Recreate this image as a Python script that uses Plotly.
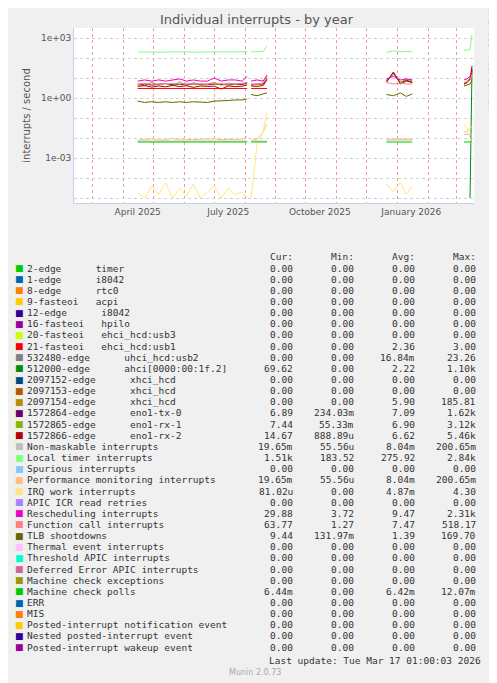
import plotly.graph_objects as go

# sample dates (None values = gaps in the data)
dates = ["2025-04-15", "2025-04-22", "2025-04-29", "2025-05-06", "2025-05-13", "2025-05-20",
         "2025-05-27", "2025-06-03", "2025-06-10", "2025-06-17", "2025-06-24", "2025-07-01",
         "2025-07-08", "2025-07-15", "2025-07-22", "2025-07-29", "2025-08-03",
         "2025-08-04",
         "2025-08-07", "2025-08-13", "2025-08-19", "2025-08-23",
         "2025-08-24",
         "2025-12-21", "2025-12-28", "2026-01-04", "2026-01-10", "2026-01-16",
         "2026-01-17",
         "2026-03-09", "2026-03-12", "2026-03-15", "2026-03-17"]
N = None

loc_timer = [200, 195, 190, 200, 195, 205, 200, 210, 190, 195, 200, 200, 195, 200, 190, 205, 210, N,
             205, 200, 210, 400, N, 190, 230, 200, 215, 205, N, 240, 240, 260, 1500]
resched = [7, 8, 7, 8, 7, 8, 9, 7, 8, 7, 7, 10, 7, 8, 8, 7, 12, N,
           7, 8, 7, 14, N, 9, 12, 8, 9, 8, N, 8, 9, 12, 20]
func_call = [5, 5.5, 5, 5.2, 5, 5.4, 5, 5.6, 5, 5.3, 5, 5.5, 5.2, 5, 5.4, 5.2, 6, N,
             5, 5.3, 5.5, 10, N, 6, 5, 5.5, 5, 5, N, 6, 6.5, 8, 15]
eno_tx = [4.5, 5, 4.4, 4.8, 5.2, 4.6, 4.9, 4.5, 5.1, 4.7, 4.6, 5, 4.8, 4.5, 4.9, 4.7, 5.5, N,
          4.5, 4.8, 5, 9, N, 7, 18, 6, 8, 6, N, 5, 6, 9, 25]
eno_rx1 = [5, 4, 6, 4.5, 5.5, 4, 6.5, 4.2, 5.8, 4.5, 5, 6, 4.3, 5.5, 4.8, 5.2, 6, N,
           5, 4.6, 5.5, 12, N, 8, 15, 6, 9, 7, N, 5, 7, 10, 20]
eno_rx2 = [3.8, 4.2, 3.5, 4, 3.6, 4.3, 3.7, 4.1, 3.4, 4, 3.8, 3.9, 2.8, 4, 3.7, 3.9, 4.5, N,
           4, 3.8, 4.2, 8, N, 6, 20, 5, 7, 6, N, 5, 6, 8, 40]
fasteoi21 = [3, 3, 3, 3, 3, 3, 3, 3, 3, 3, 3, 3, 3, 3, 3, 3, 3, N,
             3, 3, 3, 3, N, N, N, N, N, N, N, N, N, N, N]
tlb = [0.7, 0.6, 0.65, 0.6, 0.65, 0.6, 0.65, 0.6, 0.65, 0.65, 0.6, 0.7, 0.7, 0.75, 0.8, 0.8, 0.9, N,
       1.5, 1.3, 1.6, 1.8, N, 1.5, 1.3, 1.8, 1.2, 1.6, N, 4, 4.5, 5, 8]
mcp = [0.0063] * 17 + [N] + [0.0063] * 4 + [N] + [0.0063] * 5 + [N] + [0.0063] * 4
pmi = [0.008, 0.0085, 0.009, 0.0082, 0.008, 0.0095, 0.0081, 0.0083, 0.0085, 0.008, 0.0082, 0.009,
       0.0084, 0.0085, 0.0082, 0.0086, 0.012, N,
       0.008, 0.0085, 0.02, 0.05, N, 0.0085, 0.009, 0.009, 0.0088, 0.009, N, 0.02, 0.02, 0.03, 0.04]
nmi = [0.007] * 17 + [N] + [0.007] * 4 + [N] + [0.008] * 5 + [N] + [0.015] * 4
irq_work = [2e-5, 1e-5, 4e-5, 1.5e-5, 6e-5, 1e-5, 3e-5, 1.2e-5, 5e-5, 1e-5, 2e-5, 4e-5,
            1e-5, 3e-5, 1.5e-5, 2e-5, 1e-5, N,
            1e-5, 0.005, 0.02, 0.2, N, 5e-5, 2e-5, 6e-5, 1.5e-5, 4e-5, N, 0.05, 0.03, 0.01, 0.005]
ahci = [N] * 29 + [N, N, 1e-5, 30]

# legend table
names = ["2-edge      timer", "1-edge      i8042", "8-edge      rtc0", "9-fasteoi   acpi",
         "12-edge      i8042", "16-fasteoi   hpilo", "20-fasteoi   ehci_hcd:usb3",
         "21-fasteoi   ehci_hcd:usb1", "532480-edge      uhci_hcd:usb2",
         "512000-edge      ahci[0000:00:1f.2]", "2097152-edge      xhci_hcd",
         "2097153-edge      xhci_hcd", "2097154-edge      xhci_hcd",
         "1572864-edge      eno1-tx-0", "1572865-edge      eno1-rx-1",
         "1572866-edge      eno1-rx-2", "Non-maskable interrupts", "Local timer interrupts",
         "Spurious interrupts", "Performance monitoring interrupts", "IRQ work interrupts",
         "APIC ICR read retries", "Rescheduling interrupts", "Function call interrupts",
         "TLB shootdowns", "Thermal event interrupts", "Threshold APIC interrupts",
         "Deferred Error APIC interrupts", "Machine check exceptions", "Machine check polls",
         "ERR", "MIS", "Posted-interrupt notification event", "Nested posted-interrupt event",
         "Posted-interrupt wakeup event"]
colors = ["#00CC00", "#0066B3", "#FF8000", "#FFCC00", "#330099", "#990099", "#CCFF00", "#FF0000",
          "#808080", "#008F00", "#00487D", "#B35A00", "#B38F00", "#6B006B", "#8FB300", "#B30000",
          "#BEBEBE", "#80FF80", "#80C9FF", "#FFC080", "#FFE680", "#AA80FF", "#EE00CC", "#FF8080",
          "#666600", "#FFBFFF", "#00FFCC", "#CC6699", "#999900", "#00CC00", "#0066B3", "#FF8000",
          "#FFCC00", "#330099", "#990099"]
z = "0.00"
cur = [z] * 9 + ["69.62", z, z, z, "6.89", "7.44", "14.67", "19.65m", "1.51k", z, "19.65m",
       "81.02u", z, "29.88", "63.77", "9.44", z, z, z, z, "6.44m", z, z, z, z, z]
mins = [z] * 13 + ["234.03m", "55.33m", "888.89u", "55.56u", "183.52", z, "55.56u", z, z,
        "3.72", "1.27", "131.97m", z, z, z, z, z, z, z, z, z, z]
avgs = [z] * 7 + ["2.36", "16.84m", "2.22", z, z, "5.90", "7.09", "6.90", "6.62", "8.04m",
        "275.92", z, "8.04m", "4.87m", z, "9.47", "7.47", "1.39", z, z, z, z, "6.42m",
        z, z, z, z, z]
maxs = [z] * 7 + ["3.00", "23.26", "1.10k", z, z, "185.81", "1.62k", "3.12k", "5.46k",
        "200.65m", "2.84k", z, "200.65m", "4.30", z, "2.31k", "518.17", "169.70", z, z, z, z,
        "12.07m", z, z, z, z, z]

fig = go.Figure()
series = [(ahci, 9), (eno_tx, 13), (eno_rx1, 14), (eno_rx2, 15), (fasteoi21, 7), (nmi, 16),
          (loc_timer, 17), (pmi, 19), (irq_work, 20), (resched, 22), (func_call, 23),
          (tlb, 24), (mcp, 29)]
for vals, i in series:
    fig.add_trace(go.Scatter(x=dates, y=vals, mode="lines", line=dict(color=colors[i], width=1),
                             connectgaps=False, showlegend=False))

# positions below are in screen pixels
mono = dict(family="DejaVu Sans Mono", size=9.5, color="#333333")
ann = []
for k, h in enumerate(["Cur:", "Min:", "Avg:", "Max:"]):
    ann.append(dict(x=287 + 61 * k, y=256, text=h, xanchor="right"))
for i, nm in enumerate(names):
    y = 268 + i * 11.15
    ann.append(dict(x=5, y=y, text="■", xanchor="left",
                    font=dict(family="DejaVu Sans", size=9, color=colors[i])))
    ann.append(dict(x=17, y=y, text=nm.replace(" ", "\u00a0"), xanchor="left"))
    for k, col in enumerate([cur, mins, avgs, maxs]):
        ann.append(dict(x=287 + 61 * k, y=y, text=col[i], xanchor="right"))
ann.append(dict(x=475, y=660, text="Last update: Tue Mar 17 01:00:03 2026", xanchor="right"))
ann.append(dict(x=247, y=672, text="Munin 2.0.73", xanchor="center",
                font=dict(family="DejaVu Sans", size=8, color="#AAAAAA")))
ann.append(dict(x=482, y=6, text="RRDTOOL / TOBI OETIKER", xanchor="center", yanchor="top",
                textangle=90, font=dict(family="DejaVu Sans", size=8, color="#CCCCCC")))
for a in ann:
    a.setdefault("font", mono)
    a.setdefault("yanchor", "middle")
    a.update(xref="paper", yref="paper", showarrow=False)
    a["x"] = (a["x"] - 66) / 400
    a["y"] = 1 - (a["y"] - 28) / 175

ytick = [10 ** p for p in range(-5, 4)]
ylab = ["1e+03" if p == 3 else "1e+00" if p == 0 else "1e-03" if p == -3 else ""
        for p in range(-5, 4)]

fig.update_layout(
    width=497, height=675, margin=dict(l=66, r=31, t=20, b=480),
    paper_bgcolor="#F0F0F0", plot_bgcolor="white",
    title=dict(text="Individual interrupts - by year", x=0.5, xanchor="center",
               y=1 - 11 / 675, yanchor="middle",
               font=dict(family="DejaVu Sans", size=13, color="#555555")),
    annotations=ann,
    xaxis=dict(range=["2025-02-10", "2026-03-19"], tickvals=["2025-04-15", "2025-07-15",
               "2025-10-15", "2026-01-15"],
               ticktext=["April 2025", "July 2025", "October 2025", "January 2026"],
               showgrid=False, ticks="", tickfont=dict(family="DejaVu Sans", size=9, color="#555555"),
               showline=True, linecolor="#C8D0F0",
               minor=dict(dtick="M1", tick0="2025-01-01", showgrid=True, gridcolor="#E8A0A0",
                          griddash="dot", gridwidth=1, ticks="")),
    yaxis=dict(type="log", range=[-5.25, 3.5], tickvals=ytick, ticktext=ylab,
               showgrid=True, gridcolor="#D0D0D0", griddash="dot", ticks="",
               tickfont=dict(family="DejaVu Sans", size=9, color="#555555"),
               showline=True, linecolor="#C8D0F0",
               title=dict(text="interrupts / second", standoff=8,
                          font=dict(family="DejaVu Sans", size=10, color="#555555"))),
)

fig.write_html("out.html")
